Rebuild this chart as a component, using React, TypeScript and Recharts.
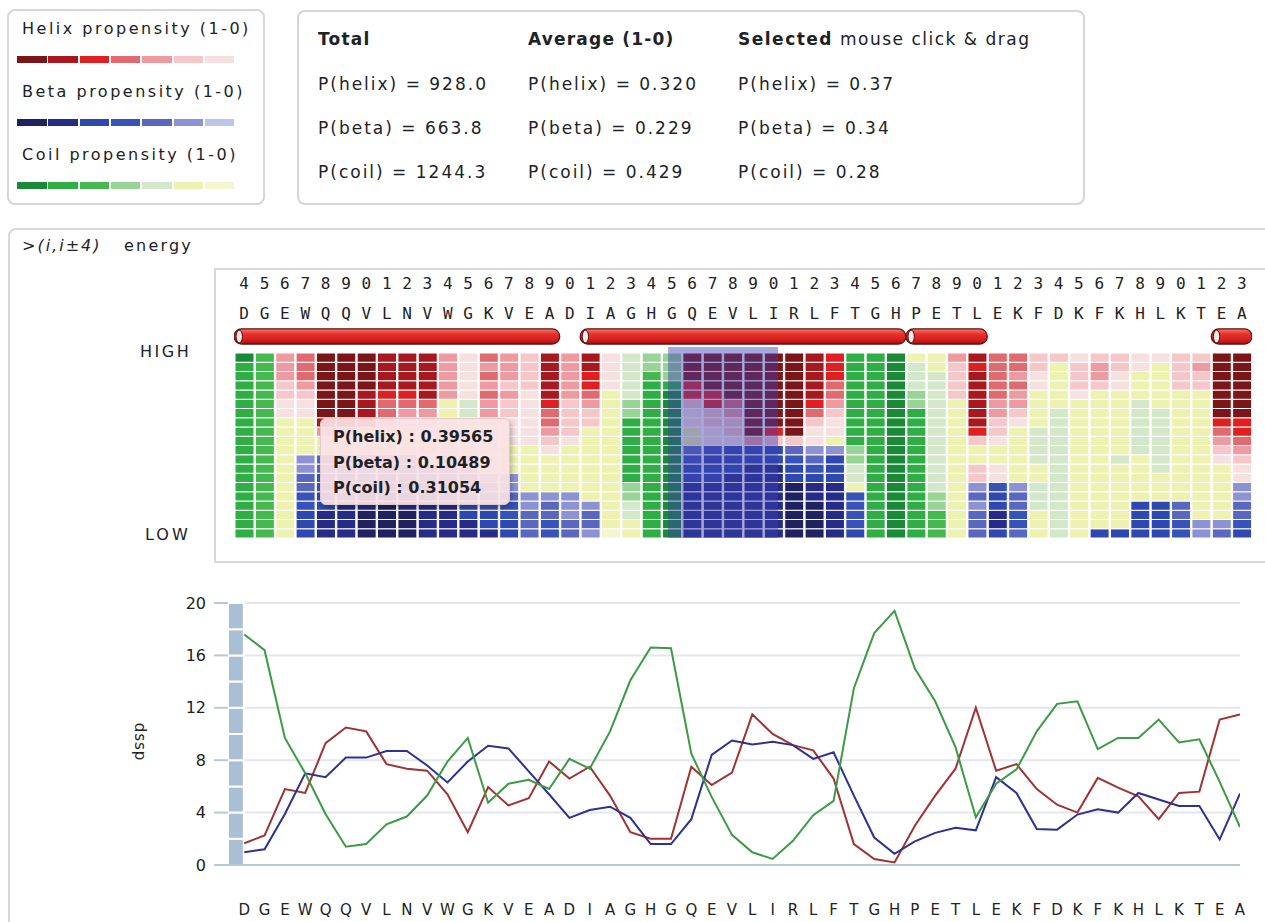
import React from 'react';
import { BarChart, Bar, Cell, XAxis, YAxis, ReferenceArea, LineChart, Line, CartesianGrid } from 'recharts';

const residues = ['D','G','E','W','Q','Q','V','L','N','V','W','G','K','V','E','A','D','I','A','G','H','G','Q','E','V','L','I','R','L','F','T','G','H','P','E','T','L','E','K','F','D','K','F','K','H','L','K','T','E','A'];
const firstResidueNumber = 4;

const helixValues = [1.66,2.25,5.8,5.5,9.3,10.5,10.2,7.7,7.35,7.2,5.4,2.5,5.95,4.55,5.1,7.9,6.6,7.5,5.3,2.5,2.0,2.0,7.5,6.1,7.05,11.5,10.0,9.15,8.75,6.6,1.6,0.46,0.2,3.0,5.3,7.35,12.0,7.2,7.7,5.8,4.6,4.0,6.65,5.9,5.25,3.5,5.5,5.6,11.1,11.5];
const betaValues = [0.97,1.2,3.9,7.0,6.7,8.2,8.2,8.7,8.7,7.6,6.3,7.9,9.1,8.9,7.15,5.4,3.6,4.2,4.45,3.6,1.6,1.6,3.5,8.4,9.5,9.2,9.4,9.15,8.1,8.6,5.3,2.1,0.85,1.8,2.45,2.85,2.65,6.7,5.5,2.75,2.7,3.85,4.25,4.0,5.5,5.0,4.5,4.5,1.95,5.45];
const coilValues = [17.6,16.4,9.7,7.0,3.9,1.4,1.6,3.1,3.7,5.3,7.9,9.7,4.75,6.2,6.5,5.8,8.1,7.35,10.2,14.1,16.6,16.55,8.5,5.2,2.3,0.97,0.46,1.85,3.8,4.9,13.5,17.7,19.4,15.0,12.5,9.0,3.65,6.2,7.3,10.2,12.3,12.5,8.85,9.7,9.7,11.1,9.35,9.6,6.35,2.9];

// heatmap grid: one string per residue, rows top (HIGH) to bottom (LOW)
// '0'-'6' helix shade, 'a'-'g' beta shade, 'A'-'G' coil shade (dark -> light)
const heatmapColumns = [
  'ABBBBBBBBBBBBBBBBBBB','CCCCCCCCCCCCCCCCCCCC','4445566FFFFFFFFFFFFF','3334566FFFFffeeddccc',
  '000000014FFeeddccbbb','000000014FFeddccbbbb','00001112FFFeddcbbaaa','11112334FFFedcbbaaaa',
  '11112345FFFedcbbbaaa','111113456FFFedcbbbbb','44444FFFFFFfedccbbbb','66666EEFFFFffeddccbb',
  '3434344FFFFFFfeddccb','4445455666FFFffeddcc','5555666666FFFFFffeee','11111233456FFFFfeedd',
  '4444455556FFFFFfffee','11223455FFFFFFFFfeef','6666FFFFFFFFFFFFFFFG','EEEEEDDBBBBBBBDDEEFF',
  'DDCBBBBBBBBBBBBBBBBB','DDDBAAAAAAAAAAAAAAAA','00022566FFedccbbbbbb','0000225566dcccbbbbbb',
  '0000034556cccbbbbbbb','0000000004ccbbbbbbbb','0000000025ccbbbbbbbb','0000000005edccaaaaaa',
  '1111123566fedcbbaaaa','222334566Ffcccbbbbbb','BBBBBBBBBBDDEEFddddc','BBBBBBBBBBBBBBBBBBBB',
  'AAAAAAAAAAAAAAAAAAAA','FEEEDDBBBBBBBBBBBBBB','FFEEEEEEEEEEEEEDDCCC','45555FFFFFFFFFFFFFFF',
  '1211111125FF55fefeee','3333344556FF66dccbbc','33434456FFFFFFfeedde','5566FFFFEEEEFFEEEFFF',
  '5FFFFFEEEEEEEEEEEEEE','65556FFFFFFFFFFFFFFF','5445FFFFFFFFFFFFFFFc','5566FFFFFFFEFFFFFFFc',
  '66FFFEEEEEEFFFFFcccc','6FFFFFEEEEEEEFFFcccc','5555FFFFFFFFFFFFeedd','5455FFFFFFFFFFFFFFff',
  '000000023456FFFFFFfe','00000002234566ffeedc',
];
const heatRows = 20;
const helixSegments = [[0, 15], [17, 32], [33, 36], [48, 49]];
const selectedRange = [20.82, 26.22];

const helixPalette = ['#7a1518', '#a8181e', '#e02020', '#e06a70', '#ee9aa0', '#f6c6c9', '#f6e0e0'];
const betaPalette = ['#1f2160', '#262b88', '#2f48b0', '#3752b8', '#5a67c0', '#8c92d4', '#c0c4e8'];
const coilPalette = ['#1b8a38', '#2eae45', '#45b84f', '#98d495', '#d2e8c8', '#eef2b0', '#f4f6cf'];

const yTicks = [0, 4, 8, 12, 16, 20];
const scrollSegments = [0, 2, 4, 6, 8, 10, 12, 14, 16, 18];

const statHeaders = ['Total', 'Average (1-0)', 'Selected'];
const totalStats = ['P(helix) = 928.0', 'P(beta) = 663.8', 'P(coil) = 1244.3'];
const averageStats = ['P(helix) = 0.320', 'P(beta) = 0.229', 'P(coil) = 0.429'];
const selectedStats = ['P(helix) = 0.37', 'P(beta) = 0.34', 'P(coil) = 0.28'];
const tooltipLines = ['P(helix) : 0.39565', 'P(beta) : 0.10489', 'P(coil) : 0.31054'];
const legendItems = [
  { label: 'Helix propensity (1-0)', palette: helixPalette },
  { label: 'Beta propensity (1-0)', palette: betaPalette },
  { label: 'Coil propensity (1-0)', palette: coilPalette },
];

const FONT = '"DejaVu Sans", Verdana, sans-serif';

function cellColor(col: number, row: number): string {
  const s = heatmapColumns[col] || '';
  const ch = s.charAt(row) || 'F';
  const c = ch.charCodeAt(0);
  if (c >= 48 && c <= 54) return helixPalette[c - 48];
  if (c >= 97 && c <= 103) return betaPalette[c - 97];
  if (c >= 65 && c <= 71) return coilPalette[c - 65];
  return coilPalette[5];
}

const heatData = residues.map((r, i) => {
  const o: any = { idx: i, residue: r };
  for (let k = 0; k < heatRows; k++) o['r' + k] = 1;
  return o;
});
const lineData = residues.map((r, i) => ({ idx: i, residue: r, helix: helixValues[i], beta: betaValues[i], coil: coilValues[i] }));
const residueTicks = residues.map((_, i) => i);
const halfTicks = residues.slice(1).map((_, i) => i + 0.5);

const HeatTick = (props: any) => {
  const { x, y, payload } = props;
  const i = payload.value as number;
  const num = (firstResidueNumber + i) % 10;
  return (
    <g>
      <text x={x} y={y - 64} textAnchor="middle" fontFamily='"DejaVu Sans Mono", monospace' fontSize={16} fill="#222">{num}</text>
      <text x={x} y={y - 34} textAnchor="middle" fontFamily='"DejaVu Sans Mono", monospace' fontSize={16} fill="#222">{residues[i]}</text>
    </g>
  );
};

const LetterTick = (props: any) => {
  const { x, y, payload } = props;
  const i = Math.round(payload.value as number);
  return (
    <text x={x} y={y + 12} textAnchor="middle" fontFamily={FONT} fontSize={15} fill="#222">{residues[i]}</text>
  );
};

const Cylinder = (props: any) => {
  const { x, y, width, height } = props;
  const r = height / 2;
  return (
    <g>
      <rect x={x} y={y} width={width} height={height} rx={r} ry={r} fill="url(#cylGrad)" stroke="#5a0c0c" strokeWidth={1.2} />
      <ellipse cx={x + r * 0.7} cy={y + r} rx={r * 0.42} ry={r - 1.2} fill="#efe9e9" stroke="#5a0c0c" strokeWidth={1} />
    </g>
  );
};

const Txt = ({ x, y, size = 16, bold = false, italic = false, spacing = 0, children }: any) => (
  <div style={{ position: 'absolute', left: x, top: y, fontSize: size, lineHeight: 1, fontWeight: bold ? 700 : 400, fontStyle: italic ? 'italic' : 'normal', letterSpacing: spacing, whiteSpace: 'nowrap', color: '#1c2226' }}>{children}</div>
);

const heatAxisCommon = {
  dataKey: 'idx',
  type: 'number' as const,
  orientation: 'top' as const,
  domain: [-0.5, 49.5],
  ticks: residueTicks,
  interval: 0 as const,
  height: 83,
  tickSize: 0,
  tickMargin: 0,
  axisLine: false,
  tickLine: false,
  allowDataOverflow: true,
};

export default function App() {
  const rowKeys = Array.from({ length: heatRows }, (_, k) => heatRows - 1 - k);
  return (
    <div style={{ position: 'absolute', left: 0, top: 0, width: 1265, height: 922, overflow: 'hidden', background: '#fff', fontFamily: FONT }}>
      {/* legend box */}
      <div style={{ position: 'absolute', left: 7, top: 9, width: 258, height: 196, border: '2px solid #d6d6d6', borderRadius: 8, boxSizing: 'border-box' }} />
      {legendItems.map((it, li) => (
        <React.Fragment key={it.label}>
          <Txt x={22} y={20.5 + li * 63} spacing={2.5}>{it.label}</Txt>
          {it.palette.map((c, ci) => (
            <div key={ci} style={{ position: 'absolute', left: 17 + ci * 31.3, top: 56 + li * 63, width: 29.5, height: 7, background: c }} />
          ))}
        </React.Fragment>
      ))}

      {/* stats box */}
      <div style={{ position: 'absolute', left: 297, top: 10, width: 788, height: 195, border: '2px solid #d6d6d6', borderRadius: 8, boxSizing: 'border-box' }} />
      <Txt x={318} y={31} size={17} bold spacing={1.2}>{statHeaders[0]}</Txt>
      <Txt x={528} y={31} size={17} bold spacing={1.2}>{statHeaders[1]}</Txt>
      <Txt x={738} y={31} size={17} spacing={1.5}><b>{statHeaders[2]}</b> mouse click &amp; drag</Txt>
      {[totalStats, averageStats, selectedStats].map((col, ci) => col.map((s, ri) => (
        <Txt key={ci + '-' + ri} x={318 + ci * 210} y={76 + ri * 44} size={17} spacing={2}>{s}</Txt>
      )))}

      {/* main panel */}
      <div style={{ position: 'absolute', left: 8, top: 228, width: 1300, height: 800, border: '2px solid #d8d8d8', borderRadius: 8, boxSizing: 'border-box' }} />
      <Txt x={22} y={238} italic spacing={2}>{'>(i,i±4)'}</Txt>
      <Txt x={124} y={238} spacing={2.2}>energy</Txt>
      <div style={{ position: 'absolute', left: 214, top: 268, width: 1100, height: 295, border: '2px solid #d8d8d8', boxSizing: 'border-box' }} />
      <Txt x={140} y={344} spacing={2.5}>HIGH</Txt>
      <Txt x={145} y={527} spacing={3}>LOW</Txt>

      {/* heatmap */}
      <div style={{ position: 'absolute', left: 234, top: 270 }}>
        <BarChart width={1018} height={268} data={heatData} margin={{ top: 0, right: 0, bottom: 0, left: 0 }} barCategoryGap={0}>
          <defs>
            <linearGradient id="cylGrad" x1="0" y1="0" x2="0" y2="1">
              <stop offset="0%" stopColor="#f27a6e" />
              <stop offset="35%" stopColor="#e8302a" />
              <stop offset="75%" stopColor="#d41e1e" />
              <stop offset="100%" stopColor="#8e1010" />
            </linearGradient>
          </defs>
          <XAxis {...heatAxisCommon} tick={<HeatTick />} />
          <YAxis hide type="number" domain={[0, heatRows]} />
          {rowKeys.map((k) => (
            <Bar key={k} dataKey={'r' + k} stackId="s" barSize={19} isAnimationActive={false}>
              {heatData.map((d, i) => (
                <Cell key={i} fill={cellColor(i, k)} stroke="#ffffff" strokeWidth={1} />
              ))}
            </Bar>
          ))}
          {helixSegments.map(([s, e], i) => (
            <ReferenceArea key={'h' + i} x1={s - 0.5} x2={e + 0.5} y1={20.97} y2={22.6} ifOverflow="visible" shape={<Cylinder />} />
          ))}
        </BarChart>
      </div>
      {/* selection overlay (same scales, drawn above the cells) */}
      <div style={{ position: 'absolute', left: 234, top: 270, pointerEvents: 'none' }}>
        <BarChart width={1018} height={268} data={heatData} margin={{ top: 0, right: 0, bottom: 0, left: 0 }}>
          <XAxis {...heatAxisCommon} tick={false} />
          <YAxis hide type="number" domain={[0, heatRows]} />
          <Bar dataKey="r0" barSize={19} fill="transparent" fillOpacity={0} isAnimationActive={false} />
          <ReferenceArea x1={selectedRange[0]} x2={selectedRange[1]} y1={-0.86} y2={20.65} ifOverflow="visible" fill="#3c40b0" fillOpacity={0.45} stroke="none" />
        </BarChart>
      </div>

      {/* tooltip */}
      <div style={{ position: 'absolute', left: 320, top: 418, width: 190, height: 87, background: 'rgba(250,226,229,0.93)', border: '1px solid #e2caca', borderRadius: 6, boxShadow: '2px 3px 5px rgba(0,0,0,0.25)', boxSizing: 'border-box' }} />
      {tooltipLines.map((t, i) => (
        <Txt key={t} x={333} y={429 + i * 25.5} bold>{t}</Txt>
      ))}

      {/* line chart */}
      <div style={{ position: 'absolute', left: 140, top: 742, transform: 'translate(-50%, -50%) rotate(90deg)', fontSize: 15, letterSpacing: 1, color: '#1c2226', whiteSpace: 'nowrap' }}>dssp</div>
      <div style={{ position: 'absolute', left: 0, top: 590 }}>
        <LineChart width={1250} height={332} data={lineData} margin={{ top: 13, right: 10, bottom: 0, left: 0 }}>
          <CartesianGrid vertical={false} stroke="#e3e7eb" strokeWidth={2} />
          <XAxis dataKey="idx" type="number" domain={[-0.8, 49]} ticks={halfTicks} interval={0} height={30} tick={false} tickSize={8} tickLine={{ stroke: '#b9c8d8', strokeWidth: 2 }} axisLine={{ stroke: '#b9c8d8', strokeWidth: 2 }} allowDataOverflow />
          <XAxis xAxisId="letters" dataKey="idx" type="number" domain={[-0.8, 49]} ticks={residueTicks} interval={0} height={27} tickLine={false} axisLine={false} tick={<LetterTick />} allowDataOverflow />
          <YAxis type="number" domain={[0, 20]} ticks={yTicks} interval={0} width={228} tickSize={14} tickMargin={8} axisLine={false} tickLine={{ stroke: '#b9c8d8', strokeWidth: 2 }} tick={{ fontSize: 16, fill: '#222', fontFamily: FONT }} />
          {scrollSegments.map((s) => (
            <ReferenceArea key={'sg' + s} x1={-0.8} x2={-0.02} y1={s} y2={s + 2} fill="#a9bfd6" fillOpacity={1} stroke="#ffffff" strokeWidth={2} ifOverflow="visible" />
          ))}
          <Line type="linear" dataKey="helix" stroke="#a03232" strokeWidth={2} dot={false} isAnimationActive={false} />
          <Line type="linear" dataKey="beta" stroke="#2d3190" strokeWidth={2} dot={false} isAnimationActive={false} />
          <Line type="linear" dataKey="coil" stroke="#3d9a45" strokeWidth={2} dot={false} isAnimationActive={false} />
        </LineChart>
      </div>
    </div>
  );
}
